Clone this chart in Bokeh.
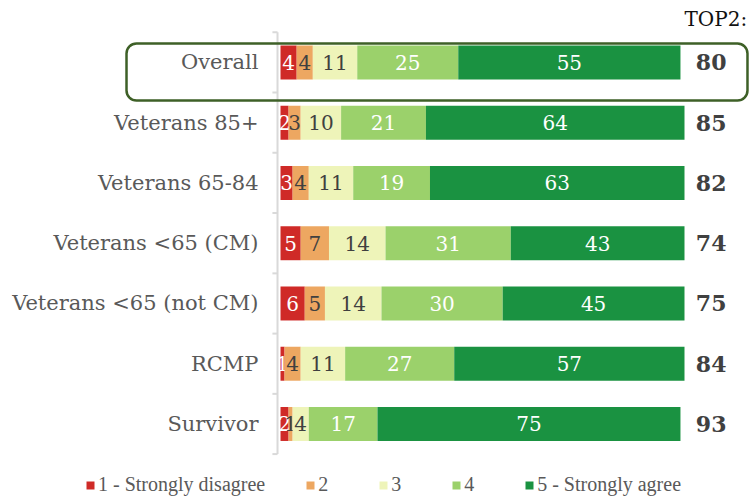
import numpy as np
from bokeh.plotting import figure
from bokeh.models import Range1d, Legend, LegendItem, BoxAnnotation
from bokeh.core.properties import value
from bokeh.embed import file_html
from bokeh.resources import INLINE

categories = ["Overall", "Veterans 85+", "Veterans 65-84", "Veterans <65 (CM)",
              "Veterans <65 (not CM)", "RCMP", "Survivor"]
s1 = [4, 2, 3, 5, 6, 1, 2]
s2 = [4, 3, 4, 7, 5, 4, 1]
s3 = [11, 10, 11, 14, 14, 11, 4]
s4 = [25, 21, 19, 31, 30, 27, 17]
s5 = [55, 64, 63, 43, 45, 57, 75]
top2 = [80, 85, 82, 74, 75, 84, 93]
series_names = ["1 - Strongly disagree", "2", "3", "4", "5 - Strongly agree"]
colors = ["#cf2a27", "#eda761", "#eef4b9", "#9bd16b", "#1a9241"]
label_colors = ["white", "#404040", "#404040", "white", "white"]

FONT = "DejaVu Serif"
n = len(categories)
ys = [n - 1 - i for i in range(n)]

p = figure(width=753, height=498, output_backend="svg", toolbar_location=None,
           x_range=Range1d(-69.31, 117.08), y_range=Range1d(-1.237, 7.029),
           min_border=0)
p.xaxis.visible = False
p.yaxis.visible = False
p.xgrid.visible = False
p.ygrid.visible = False
p.outline_line_color = None

series = [s1, s2, s3, s4, s5]
left = np.zeros(n)
renderers = []
for vals, col, lc in zip(series, colors, label_colors):
    v = np.array(vals, dtype=float)
    right = left + v
    r = p.hbar(y=ys, left=left, right=right, height=0.564, fill_color=col,
               line_color=None)
    renderers.append(r)
    mid = (left + right) / 2
    p.text(x=mid, y=ys, text=[str(x) for x in vals], text_align="center",
           text_baseline="middle", text_font=value(FONT), text_font_size="20px",
           text_color=lc)
    left = right

# axis line and boundary ticks
p.segment(x0=[-0.74], y0=[-0.5], x1=[-0.74], y1=[n - 0.5], line_color="#d9d9d9",
          line_width=2)
tick_y = [k - 0.5 for k in range(n + 1)]
p.segment(x0=[-2.0] * len(tick_y), y0=tick_y, x1=[-0.74] * len(tick_y), y1=tick_y,
          line_color="#d9d9d9", line_width=2)

# category labels
p.text(x=[-5.45] * n, y=ys, text=categories, text_align="right",
       text_baseline="middle", text_font=value(FONT), text_font_size="21px",
       text_color="#595959")

# TOP2 values
p.text(x=[106.6] * n, y=ys, text=[str(t) for t in top2], text_align="center",
       text_baseline="middle", text_font=value(FONT), text_font_size="22px",
       text_font_style="bold", text_color="#404040")
p.text(x=[100.0], y=[6.73], text=["TOP2:"], text_align="left",
       text_baseline="middle", text_font=value(FONT), text_font_size="20px",
       text_color="#111111")

# highlight box around Overall
box = BoxAnnotation(left=-38.12, right=115.59, top=6.315, bottom=5.369,
                    fill_alpha=0, fill_color=None, line_color="#3e6027",
                    line_alpha=1.0, line_width=2.5, border_radius=10)
p.add_layout(box)

legend = Legend(items=[LegendItem(label=nm, renderers=[r]) for nm, r in zip(series_names, renderers)],
                orientation="horizontal", location=(85, 2),
                background_fill_alpha=0, border_line_color=None,
                label_text_font="Liberation Serif", label_text_font_size="20px",
                label_text_color="#595959", glyph_width=10, glyph_height=10,
                label_height=18, label_standoff=3, spacing=40, padding=0, margin=0)
p.add_layout(legend, "center")

open("out.html", "w").write(file_html(p, INLINE))
